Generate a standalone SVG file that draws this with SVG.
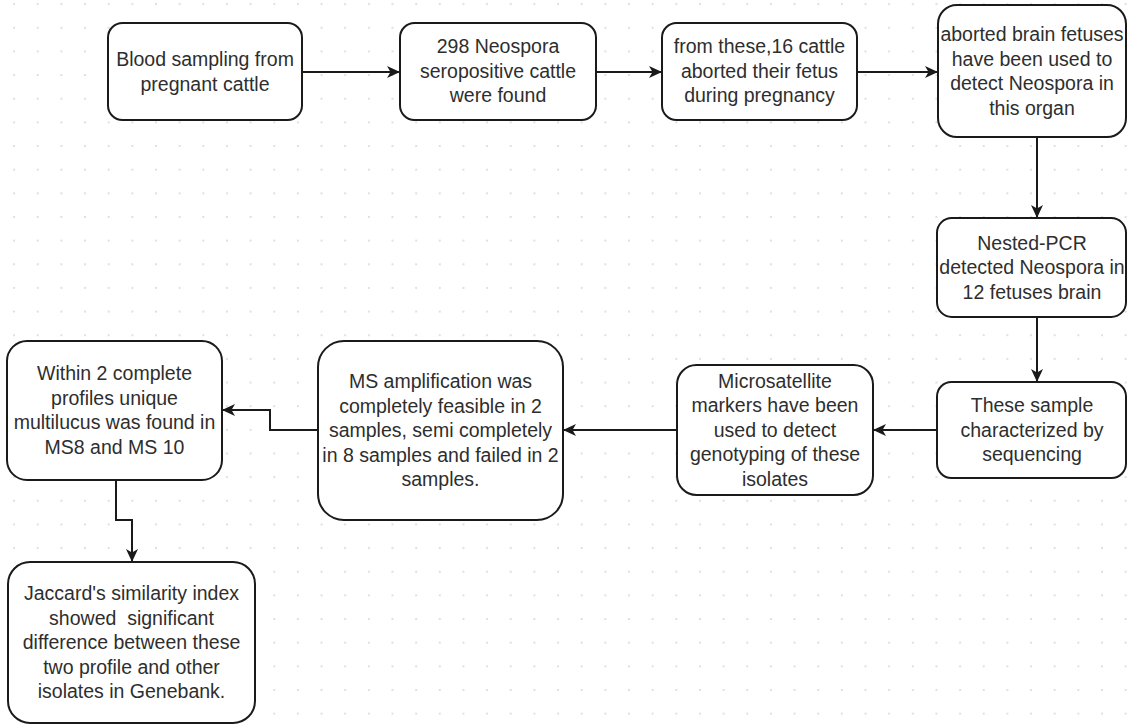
<svg xmlns="http://www.w3.org/2000/svg" width="1128" height="727" viewBox="0 0 1128 727">
<defs>
<pattern id="dots" patternUnits="userSpaceOnUse" x="2.28" y="-7.7" width="23.65" height="23.65">
<circle cx="11.825" cy="11.825" r="1.1" fill="#d9d9d9"/>
</pattern>
<marker id="arr" markerUnits="userSpaceOnUse" markerWidth="16" markerHeight="14" refX="13" refY="6" orient="auto">
<path d="M0,0 L13,6 L0,12 L3.5,6 Z" fill="#1a1a1a"/>
</marker>
<style>
.box{fill:#fff;stroke:#1a1a1a;stroke-width:2}
.t{font-family:"Liberation Sans",Arial,sans-serif;font-size:19.5px;fill:#2e2e2e;text-anchor:middle;white-space:pre}
.c{fill:none;stroke:#1a1a1a;stroke-width:2;marker-end:url(#arr)}
</style>
</defs>
<rect width="1128" height="727" fill="#fff"/>
<rect width="1128" height="727" fill="url(#dots)"/>
<g id="connectors">
<path class="c" d="M302,72 H400"/>
<path class="c" d="M596,72 H662"/>
<path class="c" d="M857,72 H938"/>
<path class="c" d="M1037,137 V218"/>
<path class="c" d="M1037,317 V382"/>
<path class="c" d="M937,430 H873"/>
<path class="c" d="M677,430 H563"/>
<path class="c" d="M318,430 H270 V410 H222"/>
<path class="c" d="M116,480 V520 H132 V562"/>
</g>
<g id="n1">
<rect class="box" x="108" y="23" width="194" height="97" rx="14.5"/>
<text class="t" x="205" y="66">Blood sampling from</text>
<text class="t" x="205" y="90.5">pregnant cattle</text>
</g>
<g id="n2">
<rect class="box" x="400" y="23" width="196" height="97" rx="14.5"/>
<text class="t" x="498" y="53.3">298 Neospora</text>
<text class="t" x="498" y="77.8">seropositive cattle</text>
<text class="t" x="498" y="102.3">were found</text>
</g>
<g id="n3">
<rect class="box" x="662" y="23" width="195" height="97" rx="14.5"/>
<text class="t" x="759.5" y="53.3">from these,16 cattle</text>
<text class="t" x="759.5" y="77.8">aborted their fetus</text>
<text class="t" x="759.5" y="102.3">during pregnancy</text>
</g>
<g id="n4">
<rect class="box" x="938" y="5" width="188" height="132" rx="19"/>
<text class="t" x="1032" y="41">aborted brain fetuses</text>
<text class="t" x="1032" y="65.5">have been used to</text>
<text class="t" x="1032" y="90">detect Neospora in</text>
<text class="t" x="1032" y="114.5">this organ</text>
</g>
<g id="n5">
<rect class="box" x="937" y="218" width="189" height="99" rx="14.8"/>
<text class="t" x="1032" y="249.8">Nested-PCR</text>
<text class="t" x="1032" y="274.3">detected Neospora in</text>
<text class="t" x="1032" y="298.8">12 fetuses brain</text>
</g>
<g id="n6">
<rect class="box" x="937" y="382" width="189" height="96" rx="14.4"/>
<text class="t" x="1032" y="412.3">These sample</text>
<text class="t" x="1032" y="436.8">characterized by</text>
<text class="t" x="1032" y="461.3">sequencing</text>
</g>
<g id="n7">
<rect class="box" x="677" y="365" width="196" height="130" rx="19.5"/>
<text class="t" x="775" y="387.8">Microsatellite</text>
<text class="t" x="775" y="412.3">markers have been</text>
<text class="t" x="775" y="436.8">used to detect</text>
<text class="t" x="775" y="461.3">genotyping of these</text>
<text class="t" x="775" y="485.8">isolates</text>
</g>
<g id="n8">
<rect class="box" x="318" y="341" width="245" height="179" rx="26"/>
<text class="t" x="440.5" y="388.3">MS amplification was</text>
<text class="t" x="440.5" y="412.8">completely feasible in 2</text>
<text class="t" x="440.5" y="437.3">samples, semi completely</text>
<text class="t" x="440.5" y="461.8">in 8 samples and failed in 2</text>
<text class="t" x="440.5" y="486.3">samples.</text>
</g>
<g id="n9">
<rect class="box" x="7" y="341" width="215" height="139" rx="20"/>
<text class="t" x="114.5" y="380">Within 2 complete</text>
<text class="t" x="114.5" y="404.5">profiles unique</text>
<text class="t" x="114.5" y="429">multilucus was found in</text>
<text class="t" x="114.5" y="453.5">MS8 and MS 10</text>
</g>
<g id="n10">
<rect class="box" x="8" y="562" width="247" height="161" rx="22"/>
<text class="t" x="131.5" y="600.3">Jaccard's similarity index</text>
<text class="t" x="131.5" y="624.8">showed  significant</text>
<text class="t" x="131.5" y="649.3">difference between these</text>
<text class="t" x="131.5" y="673.8">two profile and other</text>
<text class="t" x="131.5" y="698.3">isolates in Genebank.</text>
</g>
</svg>
